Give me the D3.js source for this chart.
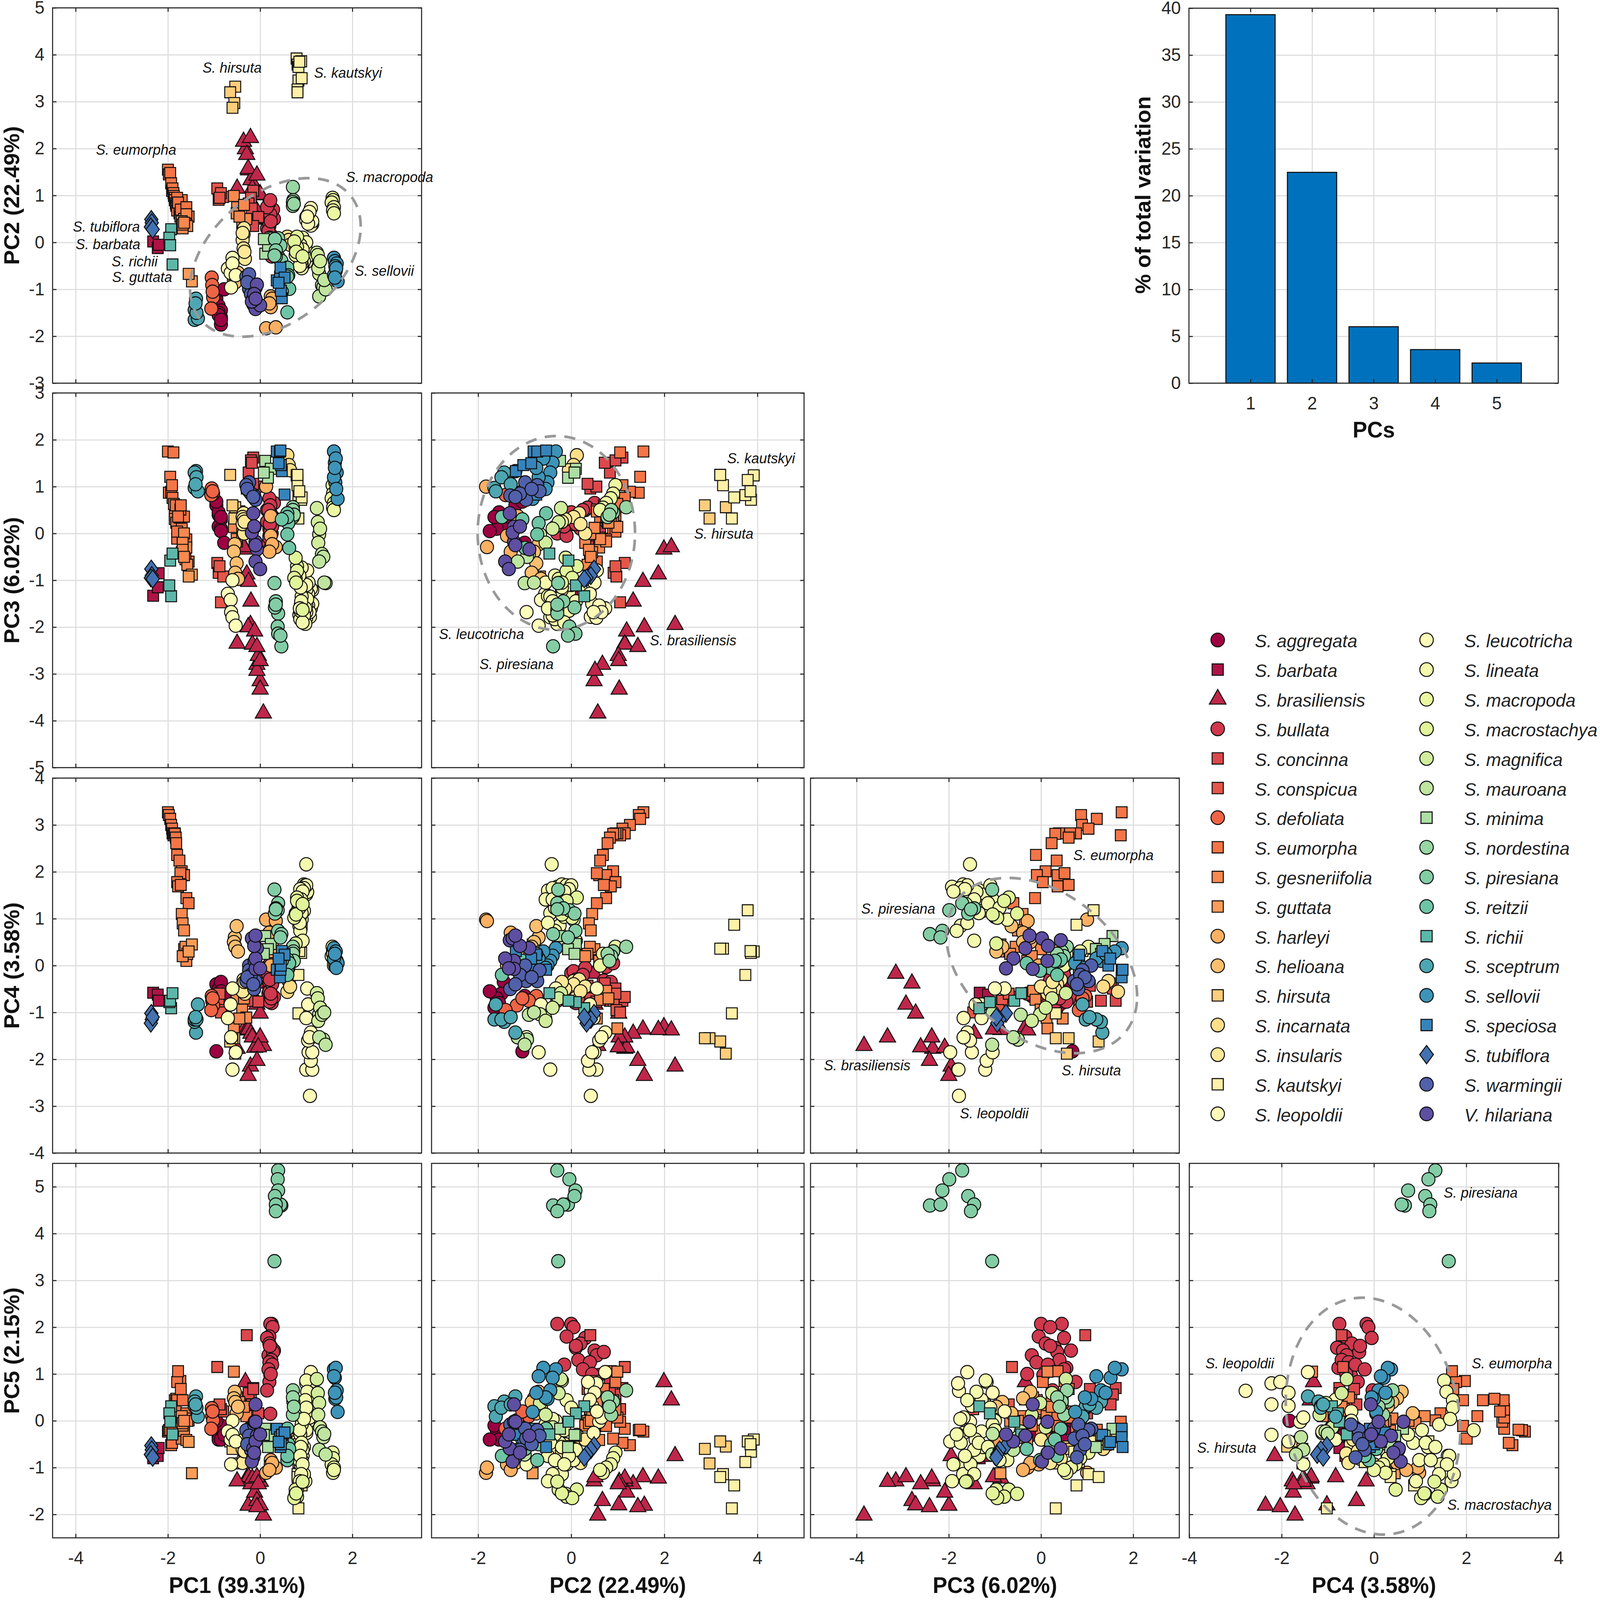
<!DOCTYPE html>
<meta charset="utf-8">
<style>
  html, body { margin: 0; background: white; overflow: hidden; }
  text { font-family: "Liberation Sans", Arial, sans-serif; fill: #262626; }
  .grid line { stroke: #dcdcdc; stroke-width: 3; }
  .grid path { stroke: none; }
  .tk path { stroke: none; }
  .tk line { stroke: #262626; stroke-width: 3; }
  .tk text { font-size: 50px; fill: #262626; font-family: "Liberation Sans", Arial, sans-serif; }
  .frame { fill: none; stroke: #262626; stroke-width: 3; }
  .lab { font-size: 62px; font-weight: bold; fill: #111; }
  .note { font-size: 40px; font-style: italic; fill: #111; }
  .leg { font-size: 51px; font-style: italic; fill: #222; }
  .mk { stroke: #111; stroke-width: 2.8; }
</style>
<script src="https://d3js.org/d3.v7.min.js"></script>
<div id="chart"></div>
<script>
// scores per sample, columns are PC1 PC2 PC3 PC4 PC5
const aggregata = [[-0.95,-1.2,0.6,-0.4,-0.15],[-0.9,-1.35,0.4,-0.5,-0.3],[-0.85,-1.45,0.3,-0.35,-0.25],[-0.9,-1.5,0.15,-0.6,-0.35],[-0.85,-1.6,0.1,-0.7,-0.2],[-0.9,-1.55,0.45,-0.8,-0.4],[-0.85,-1.75,0.05,-0.55,-0.4],[-0.85,-1.65,0.35,-0.9,-0.1],[-0.95,-1.05,0.68,-1.83,0.0],[-0.78,-1.0,-0.2,-0.65,-0.3]];
const barbata = [[-2.32,0.02,-1.33,-0.58,-0.8],[-2.22,-0.12,-1.15,-0.62,-0.75],[-2.2,-0.05,-0.85,-0.75,-0.58]];
const brasiliensis = [[-0.32,1.99,-0.34,-1.31,0.83],[-0.36,2.15,-0.29,-1.38,0.44],[-0.21,2.23,-1.95,-2.15,-0.75],[-0.29,1.87,-0.87,-1.37,-1.23],[-0.25,1.54,-1.03,-1.36,-1.2],[-0.2,1.33,-1.45,-1.45,-1.35],[-0.5,1.15,-2.35,-1.77,-1.29],[-0.26,1.57,-2.0,-2.35,-1.81],[-0.12,1.19,-2.09,-1.75,-1.53],[-0.17,1.15,-2.37,-1.53,-1.23],[0,0.49,-3.15,-0.17,-1.29],[0.07,0.57,-3.84,-1.71,-2.02],[0,1.03,-3.33,-1.53,-1.3],[-0.07,0.67,-2.8,-0.38,-1.71],[-0.07,0.51,-2.93,-0.83,-1.2],[-0.04,1.01,-2.61,-1.74,-1.35],[0,1.02,-2.72,-1.02,-1.8],[-0.07,1.43,-2.42,-2.03,-1.84]];
const bullata = [[0.25,-0.3,0.0,-0.75,2.07],[0.22,0.0,0.45,-0.16,2.07],[0.27,0.05,0.2,-0.12,2.0],[0.2,-0.1,-0.05,-0.62,1.8],[0.15,0.3,0.5,-0.05,1.77],[0.2,0.2,0.1,-0.48,1.65],[0.25,0.1,0.3,-0.8,1.56],[0.3,0.5,0.65,-0.67,1.5],[0.18,0.55,-0.2,-0.59,1.4],[0.28,0.7,0.35,-0.32,1.47],[0.2,0.35,0.55,-0.77,1.13],[0.22,0.6,0.05,-0.5,0.98],[0.2,0.85,0.75,-0.35,0.83],[0.15,0.75,0.25,-0.03,0.65],[0.22,0.9,0.6,0.05,0.15],[0.24,0.15,0.4,-0.7,1.3],[0.2,0.4,-0.1,-0.55,1.25],[0.26,-0.15,0.15,-0.4,1.2],[0.18,0.25,0.5,-0.2,1.1],[0.23,0.45,-0.3,-0.6,1.0],[0.21,0.1,0.2,-0.3,1.6]];
const concinna = [[-0.29,0.41,0.96,-0.7,1.83],[-0.15,1.1,1.62,-0.75,0.7],[-0.2,0.95,1.56,-0.49,0.56],[-0.25,0.83,1.3,-0.75,0.59],[-0.18,0.72,1.51,-0.38,0.35],[-0.04,0.54,1.0,-0.77,0.16],[-0.15,0.35,1.06,-0.43,0.68]];
const conspicua = [[-0.93,1.15,-0.63,-0.67,1.15],[-0.9,0.91,-0.84,-0.75,0.3],[-0.8,0.97,-0.92,-0.95,0.2],[-0.85,1.05,-1.47,-1.0,0.25],[-0.88,0.95,-0.7,-0.6,0.35]];
const defoliata = [[-1.05,-0.75,0.96,-0.65,0.27],[-1.04,-0.91,0.88,-0.75,0.1],[-1.02,-1.17,0.85,-0.85,0.01],[-1.06,-1.41,0.82,-0.95,-0.17],[-1.03,-1.05,0.9,-0.7,0.2]];
const eumorpha = [[-2.0,1.55,1.75,3.27,-0.23],[-1.98,1.45,0.87,3.21,-0.2],[-1.95,1.48,1.21,3.13,-0.19],[-1.93,1.26,0.89,3.0,-0.52],[-1.91,1.1,1.03,2.92,-0.47],[-1.9,1.15,0.76,2.82,-0.17],[-1.88,1.05,1.73,2.78,-0.02],[-1.87,0.99,0.63,2.82,0.07],[-1.85,0.95,0.39,2.82,0.24],[-1.85,0.9,0.31,2.81,0.44],[-1.83,0.83,0.6,2.73,0.2],[-1.82,0.78,0.23,2.61,0.47],[-1.8,0.68,-0.11,2.36,0.44],[-1.75,0.62,0.34,2.24,0.1],[-1.7,0.9,0.1,2.01,-0.38],[-1.68,0.6,-0.09,1.93,0.44],[-1.65,0.75,0.36,1.93,-0.11],[-1.73,0.55,0.51,1.97,0.85],[-1.8,0.95,0.04,1.78,0.83],[-1.78,0.85,0.36,1.69,1.06],[-1.72,0.7,0.6,1.72,0.68],[-1.6,0.75,-0.13,1.44,0.16],[-1.55,0.55,-0.6,1.33,0.01]];
const gesneriifolia = [[-1.65,0.5,0.0,0.35,-0.21],[-1.6,0.6,-0.3,0.1,-0.41],[-1.62,0.4,-0.55,0.4,0.05],[-1.58,0.35,-0.67,0.25,0.0],[-1.68,0.3,-0.2,0.2,-0.1],[-0.57,0.99,0.14,-1.34,1.05],[-0.5,0.75,-0.17,-0.54,0.5],[-0.51,0.62,-0.12,-0.73,0.2],[-0.39,0.41,-0.01,-0.94,0.25],[-0.3,0.5,0.12,-1.11,0.1],[-0.45,0.55,0.47,-1.13,0.4],[-0.35,0.8,0.23,-0.7,0.3],[-1.7,0.45,-0.4,1.1,0.1],[-1.68,0.38,-0.35,0.9,-0.05],[-1.65,0.42,-0.5,0.75,0.0]];
const guttata = [[-1.48,-0.83,-0.88,0.45,-1.12],[-1.55,-0.67,-0.92,0.3,-0.45]];
const harleyi = [[0.23,-1.15,0.37,0.31,-0.84],[0.23,-1.38,-0.05,0.0,-0.93],[0.13,-1.83,1.0,0.98,-1.11],[0.34,-1.81,-0.29,0.95,-1.0],[0.26,-1.2,-0.23,0.5,-0.9],[0.2,-1.3,-0.39,0.7,-1.05]];
const helioana = [[-0.55,-0.7,-0.23,0.6,0.62],[-0.57,-0.8,-0.39,0.5,0.48],[-0.51,-0.75,-0.64,0.84,0.16],[-0.54,-0.85,-0.84,0.4,0.4],[-0.48,-0.65,-0.97,0.3,0.3]];
const hirsuta = [[-0.54,3.32,0.56,-1.88,-0.55],[-0.65,3.2,1.25,-1.62,-0.44],[-0.56,2.97,0.32,-1.55,-0.91],[-0.6,2.87,0.6,-1.55,-0.6]];
const incarnata = [[0.59,0.12,1.67,-0.56,-0.3],[0.62,0.05,1.46,-0.33,-0.5],[0.65,-0.05,1.35,-0.45,-0.6]];
const insularis = [[-0.36,0.17,0.43,-0.3,-0.81],[-0.38,0.05,0.35,-0.4,-0.6],[-0.36,-0.13,0.3,-0.5,-0.5],[-0.33,-0.35,0.14,-0.6,-0.7],[-0.35,0.3,0.0,-0.45,-0.4],[-0.38,0.2,0.2,-0.55,-0.9],[-0.34,-0.2,0.25,-0.35,-0.65]];
const kautskyi = [[0.79,3.92,1.24,0.3,-0.4],[0.81,3.79,1.14,1.18,-0.44],[0.89,3.86,0.72,0.27,-0.66],[0.83,3.74,0.82,-0.2,-0.88],[0.83,3.45,0.32,-1.02,-1.87],[0.9,3.5,0.77,0.87,-1.38],[0.81,3.26,1.03,0.36,-1.14],[0.81,3.2,1.25,0.36,-1.2],[0.85,3.85,0.9,0.31,-0.5]];
const leopoldii = [[1.08,0.42,-1.78,-2.78,0.64],[1.0,0.54,-1.8,-2.22,0.8],[1.1,0.73,-1.6,-1.43,1.04],[1.13,0.39,-1.21,-2.22,0.35],[1.1,0.36,-1.18,-2.03,0.83],[1.05,0.5,-1.05,-1.85,0.6],[1.13,0.45,-1.5,-1.85,0.32],[1.04,0.6,-1.54,-1.6,-0.02],[1.07,0.65,-1.68,-1.53,0.07],[1.0,0.48,-1.68,-1.12,-0.26],[1.04,0.4,-1.29,-0.83,0.45],[1.02,0.55,-0.79,-0.49,0.2]];
const leucotricha = [[-0.6,-0.33,-1.0,-0.49,0.0],[-0.7,-0.56,-1.29,-1.12,-0.23],[-0.64,-0.65,-1.42,-0.83,-0.4],[-0.63,-0.96,-1.68,-1.53,-0.93],[-0.6,-0.45,-1.79,-2.22,-0.3],[-0.53,-0.7,-1.97,-1.85,-0.44]];
const lineata = [[1.0,-0.42,-1.54,2.16,-0.2],[0.98,-0.3,-1.93,1.68,-1.29],[0.95,-0.2,-1.69,1.73,-1.14],[0.92,-0.5,-1.34,1.6,-0.75],[0.9,-0.55,-1.05,1.41,-0.08],[0.88,-0.1,-1.53,1.44,-0.93],[0.95,-0.05,-1.26,1.17,-0.56],[0.9,0.05,-0.73,0.98,-0.84],[0.85,-0.25,-1.74,0.85,-0.47],[0.87,-0.35,-1.83,0.74,-0.29],[0.92,0.1,-1.45,0.53,-0.62],[0.86,-0.15,-1.0,1.04,-0.2],[1.0,-0.2,-1.2,1.52,0.86],[1.02,-0.3,-1.4,1.57,0.62],[0.98,-0.1,-1.6,1.71,0.44],[1.0,0.0,-1.1,1.71,0.28],[0.95,-0.4,-1.75,1.65,0.04],[0.9,-0.45,-1.35,1.12,-0.47],[0.88,-0.2,-1.15,1.33,-0.56],[0.85,-0.35,-0.9,1.23,-0.84],[0.87,-0.05,-1.65,1.63,-0.75],[0.92,-0.15,-1.9,1.58,-0.93],[0.89,-0.4,-1.45,1.41,-1.14],[0.86,-0.5,-1.6,0.91,-1.29]];
const macropoda = [[1.57,0.95,1.03,0.4,-0.68],[1.58,0.9,0.85,0.3,-0.8],[1.55,0.85,0.75,0.2,-0.93],[1.6,0.75,0.65,0.1,-1.0],[1.58,0.68,0.55,0.25,-1.11],[1.6,0.62,0.5,0.0,-1.05]];
const macrostachya = [[0.8,0.12,-0.7,1.45,-1.47],[0.77,-0.12,-0.52,1.11,-1.56],[0.77,-0.27,-0.97,0.47,-1.47],[0.8,-0.1,-0.8,1.38,-1.62],[0.74,0.02,-0.95,1.02,-1.65],[0.78,-0.2,-1.05,1.09,-1.55],[0.92,-0.3,-1.63,1.31,-1.3]];
const magnifica = [[1.23,-0.22,0.54,-0.59,0.89],[1.25,-0.27,0.24,-0.7,0.59],[1.28,-0.67,-0.02,-1.04,0.38],[1.26,-0.55,-0.2,-1.18,0.13],[1.3,-0.4,0.1,-0.9,-0.14]];
const mauroana = [[1.34,-0.91,-0.44,-1.05,-0.23],[1.37,-0.95,-0.5,-1.58,-0.35],[1.28,-1.15,-0.6,-1.53,-0.62],[1.42,-1.0,-1.06,-1.69,-0.72],[1.39,-0.8,-1.05,-1.0,-0.28]];
const minima = [[0.11,-0.24,1.55,0.63,-0.17],[0.23,0.1,1.38,0.46,-0.32],[0.17,-0.07,1.19,0.35,-0.56],[0.08,0.07,1.3,0.25,-0.3]];
const nordestina = [[0.71,1.18,0.56,0.4,0.65],[0.72,0.9,0.45,0.3,0.41],[0.71,0.86,0.5,0.2,0.13],[0.71,0.78,0.35,0.25,0.5],[0.73,0.82,0.4,0.1,0.3]];
const piresiana = [[0.39,-0.3,-1.71,1.33,5.35],[0.38,-0.04,-1.99,1.18,5.16],[0.39,0.09,-2.14,0.74,4.92],[0.46,-0.39,-2.41,0.67,4.6],[0.44,-0.07,-2.18,0.6,4.62],[0.32,0.07,-1.58,1.11,4.8],[0.34,-0.17,-1.45,1.22,4.62],[0.34,-0.3,-1.52,1.2,4.48],[0.31,-0.28,-1.06,1.62,3.41]];
const reitzii = [[0.59,-0.54,0.43,0.13,-0.17],[0.61,-0.7,0.22,-0.06,-0.5],[0.59,-0.73,-0.02,-0.11,-0.84],[0.63,-0.99,-0.31,0.05,-0.6],[0.59,-1.49,0.35,-0.2,-0.75],[0.47,-1.05,0.3,0.1,-0.4]];
const richii = [[-1.93,0.28,-1.34,-0.91,0.31],[-1.97,0.1,-1.11,-0.78,0.16],[-1.95,-0.06,-0.58,-0.75,-0.02],[-1.9,-0.47,-0.43,-0.59,-0.29]];
const sceptrum = [[-1.39,-1.2,1.33,-1.43,0.52],[-1.42,-1.44,1.3,-1.2,0.41],[-1.42,-1.65,0.97,-1.15,0.31],[-1.35,-1.62,0.9,-0.83,0.09],[-1.38,-1.5,1.2,-1.15,0.28],[-1.4,-1.3,1.05,-1.1,0.35]];
const sellovii = [[1.6,-0.33,1.75,0.37,1.1],[1.62,-0.4,1.51,0.21,0.92],[1.66,-0.45,1.3,0.1,0.65],[1.63,-0.51,1.09,0.0,0.47],[1.68,-0.83,0.74,0.05,0.19],[1.64,-0.6,1.6,0.3,1.13],[1.6,-0.7,1.2,0.15,0.95],[1.65,-0.55,0.95,-0.05,0.5],[1.62,-0.75,1.4,0.25,0.6]];
const speciosa = [[0.36,-0.81,1.75,-0.09,-0.17],[0.43,-0.73,1.75,-0.25,-0.35],[0.44,-0.54,1.77,-0.09,-0.56],[0.47,-1.19,1.33,0.31,-0.3],[0.45,-1.03,1.46,0,-0.5],[0.53,-0.75,0.83,0.23,-0.25],[0.4,-0.86,1.5,0.15,-0.45]];
const tubiflora = [[-2.36,0.49,-0.76,-1.02,-0.53],[-2.35,0.42,-0.9,-1.15,-0.62],[-2.37,0.33,-0.95,-1.23,-0.72],[-2.33,0.28,-0.97,-1.1,-0.78]];
const warmingii = [[-0.24,-0.99,1.09,0.0,-0.17],[-0.3,-0.73,1.03,-0.33,-0.2],[-0.13,-1.31,0.81,-0.5,-0.08],[-0.1,-0.97,0.72,-0.33,-0.38],[-0.24,-0.68,0.9,-0.1,-0.32],[-0.2,-1.1,0.85,-0.2,-0.62],[-0.28,-0.85,0.95,-0.25,-0.5],[-0.15,-1.2,0.78,-0.4,-0.78]];
const hilariana = [[-0.15,-1.32,0.43,0.54,-0.59],[-0.12,-1.23,0.14,0.1,-0.02],[-0.1,-1.23,-0.18,-0.07,0.35],[-0.07,-0.9,-0.34,0.37,-0.32],[-0.1,-1.42,-0.6,0.15,-0.44],[0.0,-1.34,-0.76,-0.06,-0.29],[-0.18,-1.26,0.02,0.58,-0.87],[-0.13,-1.1,0.15,0.42,-0.68],[-0.1,-1.2,-0.25,0.64,-0.02]];

const speciesNames = ["S. aggregata","S. barbata","S. brasiliensis","S. bullata","S. concinna","S. conspicua","S. defoliata","S. eumorpha","S. gesneriifolia","S. guttata","S. harleyi","S. helioana","S. hirsuta","S. incarnata","S. insularis","S. kautskyi","S. leopoldii","S. leucotricha","S. lineata","S. macropoda","S. macrostachya","S. magnifica","S. mauroana","S. minima","S. nordestina","S. piresiana","S. reitzii","S. richii","S. sceptrum","S. sellovii","S. speciosa","S. tubiflora","S. warmingii","V. hilariana"];
const speciesShapes = ["o","s","t","o","s","s","o","s","s","s","o","o","s","o","o","s","o","o","o","o","o","o","o","s","o","o","o","s","o","o","s","d","o","o"];
const speciesData = [aggregata,barbata,brasiliensis,bullata,concinna,conspicua,defoliata,eumorpha,gesneriifolia,guttata,harleyi,helioana,hirsuta,incarnata,insularis,kautskyi,leopoldii,leucotricha,lineata,macropoda,macrostachya,magnifica,mauroana,minima,nordestina,piresiana,reitzii,richii,sceptrum,sellovii,speciosa,tubiflora,warmingii,hilariana];

const pcLabels = ["PC1 (39.31%)","PC2 (22.49%)","PC3 (6.02%)","PC4 (3.58%)","PC5 (2.15%)"];
const barValues = [39.31,22.49,6.02,3.58,2.15];
const barTicks = [0,5,10,15,20,25,30,35,40];

// axis limits and ticks
const xDomains = [[-4.5,3.5],[-3,5],[-5,3],[-4,4]];
const yDomains = [[-3,5],[-5,3],[-4,4],[-2.5,5.5]];
const xTicks = [[-4,-2,0,2],[-2,0,2,4],[-4,-2,0,2],[-4,-2,0,2,4]];
const yTicks = [[-3,-2,-1,0,1,2,3,4,5],[-5,-4,-3,-2,-1,0,1,2,3],[-4,-3,-2,-1,0,1,2,3,4],[-2,-1,0,1,2,3,4,5]];

// col, row, cx, cy, rx, ry, tilt
const ellipses = [
  [0,0,0.33,-0.32,1.85,1.69,0.4],
  [1,1,-0.32,0.01,1.69,2.07,0],
  [2,2,0.015,0,2.07,1.87,-0.36],
  [3,3,-0.02,0.1,1.89,2.53,-0.12]
];
// col, row, text, x, y
const notes = [
  [0,0,"S. hirsuta",-1.25,3.71],[0,0,"S. kautskyi",1.17,3.6],[0,0,"S. eumorpha",-3.56,1.96],[0,0,"S. macropoda",1.86,1.38],
  [0,0,"S. tubiflora",-4.06,0.32],[0,0,"S. barbata",-4.0,-0.05],[0,0,"S. richii",-3.22,-0.42],[0,0,"S. guttata",-3.21,-0.75],[0,0,"S. sellovii",2.05,-0.62],
  [1,1,"S. kautskyi",3.35,1.59],[1,1,"S. hirsuta",2.64,-0.02],[1,1,"S. brasiliensis",1.69,-2.3],[1,1,"S. leucotricha",-2.84,-2.16],[1,1,"S. piresiana",-1.97,-2.81],
  [2,2,"S. eumorpha",0.7,2.34],[2,2,"S. piresiana",-3.9,1.2],[2,2,"S. brasiliensis",-4.71,-2.14],[2,2,"S. hirsuta",0.45,-2.25],[2,2,"S. leopoldii",-1.76,-3.17],
  [3,3,"S. piresiana",1.51,4.86],[3,3,"S. leopoldii",-3.65,1.21],[3,3,"S. eumorpha",2.12,1.21],[3,3,"S. hirsuta",-3.83,-0.59],[3,3,"S. macrostachya",1.59,-1.81]
];

// panel layout in pixels
const lefts = [150,1230.5,2311,3391], rights = [1202,2292.5,3362.5,4444];
const tops = [22,1102.5,2183,3264], bottoms = [1075,2153.6,3235,4314.6];

const svg = d3.select("#chart").append("svg")
  .attr("viewBox", "0 0 4562 4489")
  .attr("preserveAspectRatio", "none")
  .style("width", "100vw").style("height", "100vh")
  .style("display", "block");

// Spectral colormap, one step per species
const color = d3.scaleLinear()
  .domain(d3.range(11).map(i => i * 3.3))
  .range(d3.schemeSpectral[11]);

const diamond = { draw(ctx, size) {
  const h = Math.sqrt(size) , w = h * 0.76;
  ctx.moveTo(0, -h); ctx.lineTo(w, 0); ctx.lineTo(0, h); ctx.lineTo(-w, 0); ctx.closePath();
}};
function marker(shape) {
  if (shape == "s") return d3.symbol(d3.symbolSquare, 961)();
  if (shape == "t") return d3.symbol(d3.symbolTriangle, 920)();
  if (shape == "d") return d3.symbol(diamond, 625)();
  return d3.symbol(d3.symbolCircle, 1100)();
}

function drawGrid(g, x, y, w, h, xt, yt) {
  g.append("g").attr("class", "grid").attr("transform", `translate(0,${h})`)
    .call(d3.axisBottom(x).tickValues(xt).tickSize(-h).tickFormat(""));
  g.append("g").attr("class", "grid")
    .call(d3.axisLeft(y).tickValues(yt).tickSize(-w).tickFormat(""));
}
function drawTicks(g, x, y, w, h, xt, yt, showX, showY) {
  const fmt = d => String(d);
  g.append("g").attr("class", "tk").attr("transform", `translate(0,${h})`)
    .call(d3.axisBottom(x).tickValues(xt).tickSize(-11).tickPadding(38).tickFormat(showX ? fmt : ""));
  g.append("g").attr("class", "tk")
    .call(d3.axisTop(x).tickValues(xt).tickSize(-11).tickFormat(""));
  g.append("g").attr("class", "tk")
    .call(d3.axisLeft(y).tickValues(yt).tickSize(-11).tickPadding(23).tickFormat(showY ? fmt : ""));
  g.append("g").attr("class", "tk").attr("transform", `translate(${w},0)`)
    .call(d3.axisRight(y).tickValues(yt).tickSize(-11).tickFormat(""));
  g.append("rect").attr("class", "frame").attr("width", w).attr("height", h);
}

// lower triangle of score plots
for (let row = 0; row < 4; row++) {
  for (let col = 0; col <= row; col++) {
    const w = rights[col] - lefts[col], h = bottoms[row] - tops[row];
    const x = d3.scaleLinear().domain(xDomains[col]).range([0, w]);
    const y = d3.scaleLinear().domain(yDomains[row]).range([h, 0]);
    const g = svg.append("g").attr("transform", `translate(${lefts[col]},${tops[row]})`);

    drawGrid(g, x, y, w, h, xTicks[col], yTicks[row]);

    speciesData.forEach((rows, i) => {
      g.append("g").selectAll("path").data(rows).join("path")
        .attr("class", "mk")
        .attr("d", marker(speciesShapes[i]))
        .attr("fill", color(i))
        .attr("transform", d => `translate(${x(d[col])},${y(d[row + 1])})`);
    });

    drawTicks(g, x, y, w, h, xTicks[col], yTicks[row], row == 3, col == 0);

    ellipses.filter(e => e[0] == col && e[1] == row).forEach(e => {
      const line = d3.line()
        .x(t => x(e[2] + e[4] * Math.cos(t)))
        .y(t => y(e[3] + e[5] * Math.sin(t + e[6])));
      g.append("path")
        .attr("d", line(d3.range(0, 2 * Math.PI + 0.02, 0.02)))
        .attr("fill", "none").attr("stroke", "#999")
        .attr("stroke-width", 7.5).attr("stroke-dasharray", "32 24");
    });

    notes.filter(n => n[0] == col && n[1] == row).forEach(n => {
      g.append("text").attr("class", "note")
        .attr("x", x(n[3])).attr("y", y(n[4])).attr("dy", "0.3em").text(n[2]);
    });
  }
}

// axis titles
d3.range(4).forEach(i => {
  svg.append("text").attr("class", "lab").attr("text-anchor", "middle")
    .attr("x", (lefts[i] + rights[i]) / 2).attr("y", 4469).text(pcLabels[i]);
  svg.append("text").attr("class", "lab").attr("text-anchor", "middle")
    .attr("transform", `translate(55,${(tops[i] + bottoms[i]) / 2}) rotate(-90)`).text(pcLabels[i + 1]);
});

// scree bars
{
  const w = 1053, h = 1052;
  const g = svg.append("g").attr("transform", "translate(3390,23)");
  const x = d3.scaleLinear().domain([0, 6]).range([0, w]);
  const y = d3.scaleLinear().domain([0, 40]).range([h, 0]);
  const pcs = [1, 2, 3, 4, 5];
  drawGrid(g, x, y, w, h, pcs, barTicks);
  g.selectAll(".bar").data(barValues).join("rect")
    .attr("class", "bar")
    .attr("x", (d, i) => x(pcs[i] - 0.4))
    .attr("width", x(0.8) - x(0))
    .attr("y", d => y(d))
    .attr("height", d => h - y(d))
    .attr("fill", "#0072bd").attr("stroke", "#111").attr("stroke-width", 3);
  drawTicks(g, x, y, w, h, pcs, barTicks, true, true);
  svg.append("text").attr("class", "lab").attr("text-anchor", "middle")
    .attr("x", 3917).attr("y", 1228).text("PCs");
  svg.append("text").attr("class", "lab").attr("text-anchor", "middle")
    .attr("transform", "translate(3280,547) rotate(-90)").text("% of total variation");
}

// legend, two columns of 17
speciesNames.forEach((name, i) => {
  const c = i < 17 ? 0 : 1, r = c ? i - 17 : i;
  const yy = 1795.5 + r * 83.1;
  const g = svg.append("g").attr("transform", `translate(${c ? 4067.5 : 3472},${yy})`);
  g.append("path").attr("class", "mk").attr("d", marker(speciesShapes[i]))
    .attr("fill", color(i)).attr("transform", "scale(1.03)");
  g.append("text").attr("class", "leg").attr("x", c ? 107.5 : 106).attr("dy", "0.41em").text(name);
});
</script>
